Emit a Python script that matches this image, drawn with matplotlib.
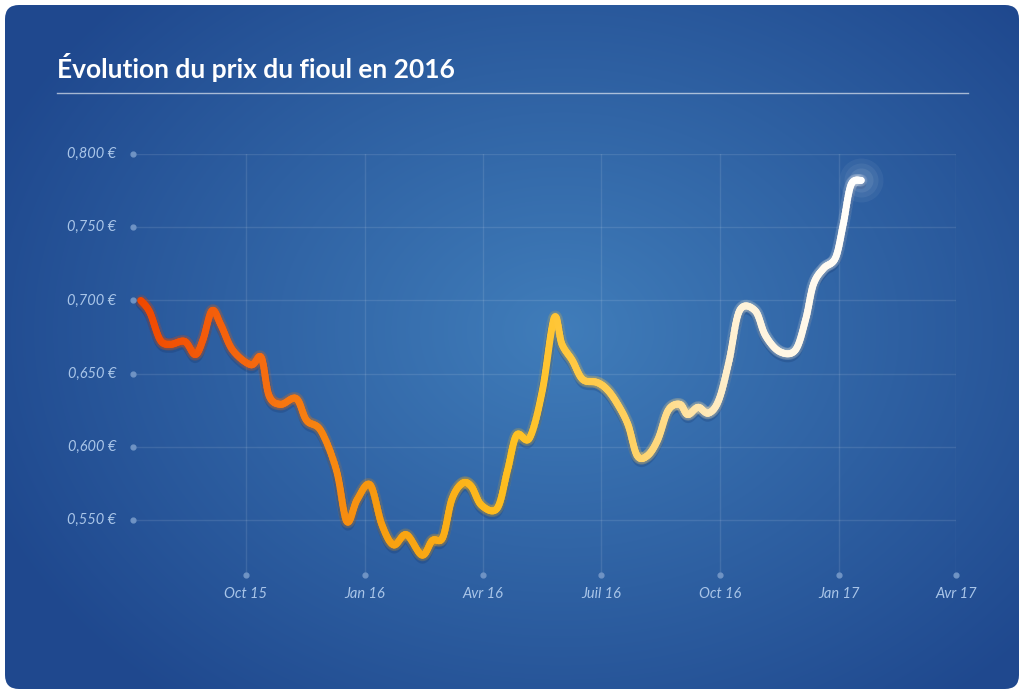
import numpy as np
import matplotlib
matplotlib.use("Agg")
import matplotlib.pyplot as plt
import matplotlib.dates as mdates
from matplotlib.collections import LineCollection
from matplotlib.colors import LinearSegmentedColormap
from matplotlib.patches import FancyBboxPatch
import datetime as dt

dates = ["2015-07-12","2015-07-19","2015-07-27","2015-08-04","2015-08-15","2015-08-23","2015-08-29",
         "2015-09-05","2015-09-12","2015-09-21","2015-10-05","2015-10-13","2015-10-19","2015-10-28",
         "2015-11-09","2015-11-17","2015-11-28","2015-12-10","2015-12-18","2015-12-26","2016-01-05",
         "2016-01-14","2016-01-23","2016-02-02","2016-02-14","2016-02-22","2016-03-01","2016-03-08",
         "2016-03-16","2016-03-23","2016-03-31","2016-04-12","2016-04-20","2016-04-27","2016-05-07",
         "2016-05-17","2016-05-26","2016-06-01","2016-06-09","2016-06-17","2016-06-28","2016-07-06",
         "2016-07-14","2016-07-22","2016-07-29","2016-08-06","2016-08-14","2016-08-22","2016-08-31",
         "2016-09-06","2016-09-14","2016-09-22","2016-09-30","2016-10-08","2016-10-16","2016-10-28",
         "2016-11-05","2016-11-16","2016-11-28","2016-12-06","2016-12-12","2016-12-20","2016-12-29",
         "2017-01-04","2017-01-10","2017-01-18"]
prices = [0.700,0.692,0.673,0.670,0.672,0.663,0.673,0.693,0.683,0.666,0.656,0.661,0.635,0.629,
          0.633,0.618,0.611,0.584,0.549,0.564,0.574,0.547,0.533,0.540,0.526,0.536,0.538,0.564,
          0.575,0.573,0.560,0.558,0.584,0.608,0.606,0.639,0.688,0.670,0.659,0.646,0.644,0.639,
          0.629,0.615,0.594,0.594,0.605,0.625,0.629,0.622,0.627,0.623,0.632,0.659,0.693,0.693,
          0.676,0.665,0.666,0.687,0.711,0.722,0.729,0.752,0.779,0.782]
x_ticks = ["2015-10-01","2016-01-01","2016-04-01","2016-07-01","2016-10-01","2017-01-01","2017-04-01"]
x_labels = ["Oct 15","Jan 16","Avr 16","Juil 16","Oct 16","Jan 17","Avr 17"]
y_ticks = [0.55,0.60,0.65,0.70,0.75,0.80]
y_labels = ["0,550 €","0,600 €","0,650 €","0,700 €","0,750 €","0,800 €"]
title = "Évolution du prix du fioul en 2016"

plt.rcParams["font.family"] = "Lato"
W, H = 1024, 696
fig = plt.figure(figsize=(W/100, H/100), dpi=100, facecolor="white")

bg = fig.add_axes([0, 0, 1, 1]); bg.set_xlim(0, W); bg.set_ylim(H, 0); bg.axis("off")
yy, xx = np.mgrid[0:H, 0:W]
r = np.sqrt(((xx-560)/620)**2 + ((yy-330)/480)**2)
r = np.clip(r, 0, 1)
c0 = np.array([0x40, 0x7d, 0xba])/255; c1 = np.array([0x1f, 0x48, 0x8e])/255
img = c0[None, None, :]*(1-r[..., None]) + c1[None, None, :]*r[..., None]
card = FancyBboxPatch((5, 5), W-10, H-12, boxstyle="round,pad=0,rounding_size=14",
                      transform=bg.transData, facecolor="none", edgecolor="none")
bg.add_patch(card)
im = bg.imshow(img, extent=(0, W, H, 0), zorder=0)
im.set_clip_path(card)
bg.text(57, 68, title, color="white", fontsize=19, fontweight="bold", va="center", ha="left")
bg.plot([57, 968], [93, 93], color="white", alpha=0.6, lw=1)

d = mdates.date2num([dt.date.fromisoformat(s) for s in dates])
p = np.array(prices)
xt = mdates.date2num([dt.date.fromisoformat(s) for s in x_ticks])
q = xt[1]-xt[0]
xmin = xt[0] - q*112/118.5
ymin = 0.55 - 55/73.2*0.05

ax = fig.add_axes([133/W, 1-575/H, (956-133)/W, (575-154)/H])
ax.set_facecolor("none")
ax.set_xlim(xmin, xt[-1]); ax.set_ylim(ymin, 0.80)
for s in ax.spines.values(): s.set_visible(False)
ax.set_xticks([]); ax.set_yticks([])
for x in xt:
    ax.axvline(x, color="white", alpha=0.1, lw=1)
for y in y_ticks:
    ax.axhline(y, color="white", alpha=0.1, lw=1)
lab = "#a9c5e8"
ax.scatter(xt, [ymin]*len(xt), s=12, color="#6f93c4", clip_on=False, zorder=3)
ax.scatter([xmin]*len(y_ticks), y_ticks, s=12, color="#6f93c4", clip_on=False, zorder=3)
for x, l in zip(xt, x_labels):
    ax.text(x, ymin - 0.0127, l, color=lab, fontsize=10.5, ha="center", va="center", style="italic")
for y, l in zip(y_ticks, y_labels):
    ax.text(xmin - 17*(xt[-1]-xmin)/823, y, l, color=lab, fontsize=10.5, ha="right", va="center", style="italic")

def cr(xs, ys, n=12):
    P = np.column_stack([xs, ys]); P = np.vstack([P[0], P, P[-1]])
    out = []
    for i in range(1, len(P)-2):
        p0, p1, p2, p3 = P[i-1], P[i], P[i+1], P[i+2]
        for t in np.linspace(0, 1, n, endpoint=False):
            out.append(0.5*((2*p1) + (-p0+p2)*t + (2*p0-5*p1+4*p2-p3)*t**2 + (-p0+3*p1-3*p2+p3)*t**3))
    out.append(P[-2])
    return np.array(out)
S = cr(d, p)
pts = S.reshape(-1, 1, 2)
segs = np.concatenate([pts[:-1], pts[1:]], axis=1)
cmap = LinearSegmentedColormap.from_list("g", ["#f04800", "#f56a10", "#f8a010", "#ffc020", "#ffd060", "#fff2d8", "#ffffff"])
tv = np.linspace(0, 1, len(segs))
ax.plot(S[:, 0], S[:, 1] - 0.0025, color="#0a2050", alpha=0.18, lw=7, solid_capstyle="round")
ax.add_collection(LineCollection(segs, colors=cmap(tv), linewidths=9, alpha=0.06, capstyle="round"))
ax.add_collection(LineCollection(segs, colors=cmap(tv), linewidths=5, capstyle="round", joinstyle="round"))
for s_, a_ in [(1000, 0.05), (600, 0.06), (300, 0.08)]:
    ax.scatter([d[-1]], [p[-1]], s=s_, color="white", alpha=a_, zorder=4, linewidths=0)

fig.savefig("out.png", dpi=100, facecolor="white")
